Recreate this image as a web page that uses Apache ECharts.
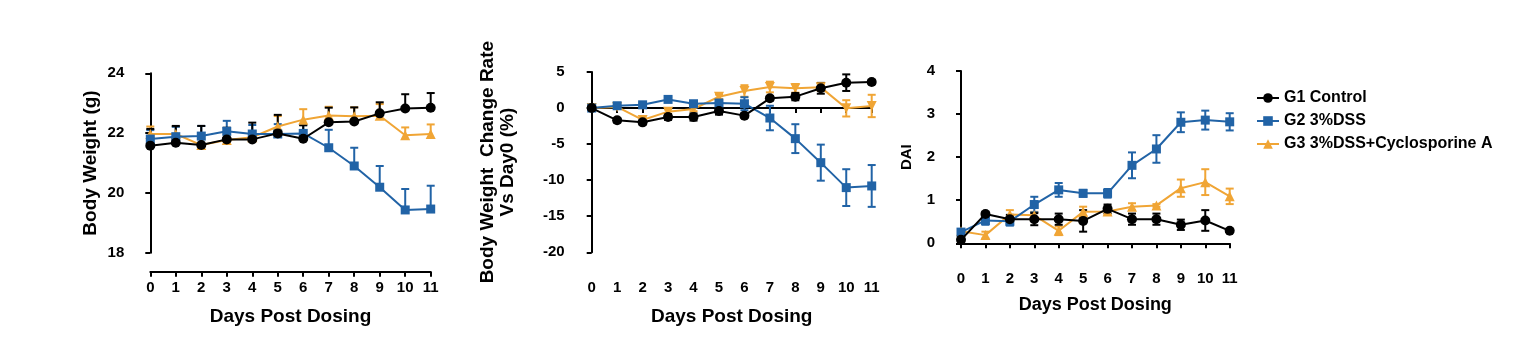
<!DOCTYPE html>
<html><head><meta charset="utf-8">
<script src="https://cdn.jsdelivr.net/npm/echarts@6/dist/echarts.min.js"></script>
<style>html,body{margin:0;padding:0;background:#fff}#c{width:1525px;height:355px}</style>
</head><body><div id="c"></div>
<script>
const days = [0,1,2,3,4,5,6,7,8,9,10,11];
const groupNames = ['G1 Control','G2 3%DSS','G3 3%DSS+Cyclosporine A'];

const bwG1 = [21.58,21.68,21.60,21.79,21.79,21.99,21.81,22.36,22.39,22.66,22.82,22.85];
const bwG1Err = [0.56,0.56,0.64,0.39,0.56,0.62,0.45,0.49,0.47,0.37,0.48,0.49];
const bwG2 = [21.80,21.88,21.90,22.06,21.97,21.97,21.99,21.51,20.90,20.19,19.43,19.46];
const bwG2Err = [0.30,0.33,0.34,0.35,0.30,0.33,0.28,0.60,0.61,0.71,0.70,0.78];
const bwG3 = [21.97,21.97,21.60,21.77,21.86,22.22,22.45,22.59,22.56,22.58,21.93,21.97];
const bwG3Err = [0.25,0.25,0.20,0.20,0.20,0.35,0.35,0.29,0.30,0.39,0.26,0.32];

const crG1 = [0,-1.70,-1.98,-1.24,-1.24,-0.41,-1.05,1.35,1.58,2.74,3.52,3.61];
const crG1Err = [0.2,0.3,0.3,0.4,0.5,0.5,0.3,0.3,0.5,0.75,1.15,0.3];
const crG2 = [0,0.32,0.45,1.2,0.6,0.7,0.6,-1.38,-4.24,-7.57,-11.03,-10.8];
const crG2Err = [0.2,0.2,0.2,0.3,0.2,0.3,0.9,1.7,2.0,2.5,2.55,2.9];
const crG3 = [0,0.15,-1.65,-0.5,-0.13,1.58,2.37,2.92,2.74,2.87,-0.04,0.29];
const crG3Err = [0.2,0.2,0.3,0.3,0.3,0.3,0.8,0.74,0.6,0.5,1.13,1.55];

const daiG1 = [0.08,0.68,0.56,0.56,0.56,0.52,0.80,0.56,0.56,0.43,0.53,0.29];
const daiG1Err = [0.08,0.05,0.10,0.14,0.13,0.25,0.10,0.13,0.13,0.12,0.24,0.03];
const daiG2 = [0.26,0.53,0.51,0.90,1.24,1.16,1.16,1.81,2.19,2.81,2.86,2.82];
const daiG2Err = [0.05,0.10,0.10,0.18,0.16,0.08,0.10,0.30,0.32,0.23,0.22,0.20];
const daiG3 = [0.28,0.19,0.67,0.65,0.29,0.73,0.74,0.85,0.88,1.28,1.42,1.09];
const daiG3Err = [0.05,0.08,0.10,0.08,0.10,0.12,0.07,0.08,0.03,0.20,0.30,0.18];

const yTicks1 = {min:18,max:24,interval:2};
const yTicks2 = {min:-20,max:5,interval:5};
const yTicks3 = {min:0,max:4,interval:1};

const COLORS = ['#000000','#2163A6','#F0A535'];
const FONT = '"Liberation Sans", Arial, sans-serif';

function pairs(v){ return days.map((d,i)=>[d,v[i]]); }
function errPairs(v,e){ return days.map((d,i)=>[d,v[i],e[i]]); }

function errRender(upperOnly){
  return function(params, api){
    const x = api.value(0), y = api.value(1), e = api.value(2);
    const p = api.coord([x,y]);
    const hi = api.coord([x,y+e]);
    const lo = upperOnly ? p : api.coord([x,y-e]);
    const w = 4;
    const style = {stroke: api.visual('color'), lineWidth: 2, fill:null};
    const ch = [
      {type:'line', shape:{x1:p[0],y1:hi[1],x2:p[0],y2:lo[1]}, style},
      {type:'line', shape:{x1:p[0]-w,y1:hi[1],x2:p[0]+w,y2:hi[1]}, style}
    ];
    if(!upperOnly) ch.push({type:'line', shape:{x1:p[0]-w,y1:lo[1],x2:p[0]+w,y2:lo[1]}, style});
    return {type:'group', children: ch};
  };
}

const axisLine = {show:true, lineStyle:{color:'#000', width:2}};
const axisTick = {show:true, length:5, inside:false, lineStyle:{color:'#000', width:2}};
const tickLabel = {color:'#000', fontWeight:'bold', fontSize:15, fontFamily:FONT};

const grids = [
  {left:150.3, top:73.3, width:280.4, height:179.4},
  {left:591.7, top:72, width:280, height:180.3},
  {left:961, top:71, width:268.7, height:172.3}
].map(g=>Object.assign({outerBoundsMode:'none', containLabel:false}, g));

function xAx(i, nameGap, fs){
  return {type:'value', gridIndex:i, min:0, max:11, interval:1, offset:19,
    axisLine, axisTick, splitLine:{show:false},
    axisLabel:Object.assign({margin:9}, tickLabel),
    name:'Days Post Dosing', nameLocation:'middle', nameGap:nameGap,
    nameTextStyle:{color:'#000', fontWeight:'bold', fontSize:fs, fontFamily:FONT}};
}
function yAx(i, t, name, nameGap, fs, off){
  return {type:'value', gridIndex:i, min:t.min, max:t.max, interval:t.interval, offset:off,
    axisLine, axisTick, splitLine:{show:false},
    axisLabel:Object.assign({margin:7}, tickLabel),
    name:name, nameLocation:'middle', nameGap:nameGap, nameRotate:90,
    nameTextStyle:{color:'#000', fontWeight:'bold', fontSize:fs, fontFamily:FONT, lineHeight:20, align:'center'}};
}

const symbols = ['circle','rect','triangle'];
const series = [];
function addChart(gi, vals, errs, upperOnly, g3sym){
  [2,1,0].forEach(k=>{
    series.push({type:'custom', xAxisIndex:gi, yAxisIndex:gi, renderItem:errRender(upperOnly),
      data: errPairs(vals[k], errs[k]), itemStyle:{color:COLORS[k]}, clip:false, z:2+(2-k)*0.1, silent:true,
      encode:{x:0,y:[1,2]}});
  });
  [2,1,0].forEach(k=>{
    const rot = (k===2 && g3sym==='down') ? 180 : 0;
    series.push({type:'line', name:groupNames[k], xAxisIndex:gi, yAxisIndex:gi,
      data: pairs(vals[k]), clip:false, symbol:symbols[k], symbolRotate:rot,
      symbolSize: k===1 ? 9 : 10,
      lineStyle:{color:COLORS[k], width:2}, itemStyle:{color:COLORS[k], borderWidth:0},
      z:3+(2-k)*0.1, animation:false, silent:true});
  });
}
addChart(0,[bwG1,bwG2,bwG3],[bwG1Err,bwG2Err,bwG3Err],true,'up');
addChart(1,[crG1,crG2,crG3],[crG1Err,crG2Err,crG3Err],false,'down');
addChart(2,[daiG1,daiG2,daiG3],[daiG1Err,daiG2Err,daiG3Err],false,'up');

const option = {
  animation:false,
  backgroundColor:'#fff',
  grid: grids,
  xAxis:[xAx(0,36,19), xAx(1,36,19), xAx(2,34,18)],
  yAxis:[
    yAx(0,yTicks1,'Body Weight (g)',31,19,19),
    yAx(1,yTicks2,'Body Weight  Change Rate\nVs Day0 (%)',54,19,20),
    yAx(2,yTicks3,'DAI',25,15,19)
  ],
  legend:{
    data: groupNames, orient:'vertical', left:1251, top:85,
    itemWidth:22, itemHeight:12, itemGap:7,
    textStyle:{color:'#000', fontWeight:'bold', fontSize:16, fontFamily:FONT},
    selectedMode:false
  },
  series
};
const chart = echarts.init(document.getElementById('c'), null, {renderer:'canvas'});
chart.setOption(option);
</script></body></html>
